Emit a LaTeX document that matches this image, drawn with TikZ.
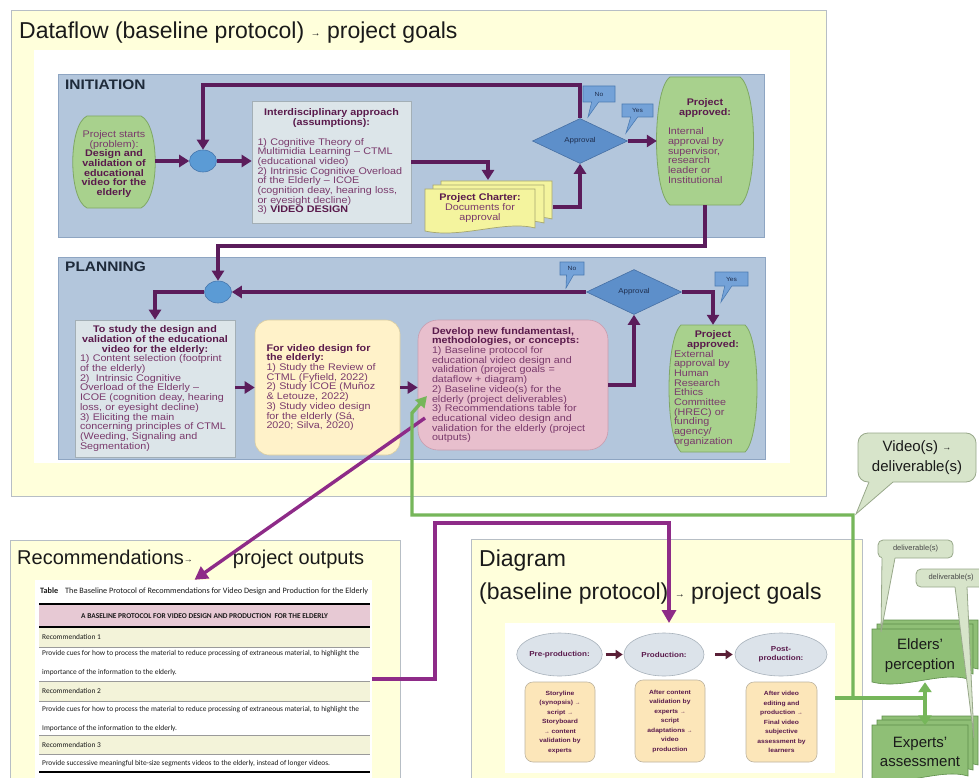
\documentclass[tikz,border=0pt]{standalone}
\usepackage{fontspec}
\setmainfont{Liberation Sans}
\newfontfamily\bxfont[FakeStretch=1.12]{Liberation Sans}
\newfontfamily\tblfont{Carlito}
\usetikzlibrary{arrows.meta,shapes.geometric,shapes.callouts}

\definecolor{pageyellow}{HTML}{FFFFDB}
\definecolor{frame}{HTML}{B7BEC5}
\definecolor{panelblue}{HTML}{B3C6DC}
\definecolor{panelline}{HTML}{8EA5C2}
\definecolor{flowpurple}{HTML}{5B1C5B}
\definecolor{magpurple}{HTML}{8E2B88}
\definecolor{dotblue}{HTML}{5B9BD5}
\definecolor{dotline}{HTML}{4677AE}
\definecolor{diamblue}{HTML}{5D8FCA}
\definecolor{diamline}{HTML}{466FA3}
\definecolor{callblue}{HTML}{74A2D8}
\definecolor{callline}{HTML}{4B7BB3}
\definecolor{navytext}{HTML}{1F2F4F}
\definecolor{okgreen}{HTML}{A8D18D}
\definecolor{okgreenline}{HTML}{7FA765}
\definecolor{greyblue}{HTML}{DCE5E9}
\definecolor{boxline}{HTML}{A3AFB6}
\definecolor{softyellow}{HTML}{FFF2C9}
\definecolor{yellowline}{HTML}{D9CCA0}
\definecolor{softpink}{HTML}{E8BFCD}
\definecolor{pinkline}{HTML}{C79DAF}
\definecolor{charterfill}{HTML}{F4F49E}
\definecolor{charterline}{HTML}{A6A66E}
\definecolor{tnorm}{HTML}{7A3A6C}
\definecolor{tbold}{HTML}{5A1A4C}
\definecolor{linkgreen}{HTML}{76B65A}
\definecolor{docgreen}{HTML}{8FBF76}
\definecolor{docline}{HTML}{5E8E4A}
\definecolor{sage}{HTML}{D7E4CA}
\definecolor{sageline}{HTML}{98A88A}
\definecolor{maroon}{HTML}{5A1F37}
\definecolor{peach}{HTML}{FCE6B9}
\definecolor{peachline}{HTML}{BDB4A0}
\definecolor{ellgrey}{HTML}{DCE3EA}
\definecolor{ellline}{HTML}{A8B2BB}
\definecolor{tblpink}{HTML}{E7C9D4}
\definecolor{tblrow}{HTML}{F3F3D9}
\definecolor{tblline}{HTML}{9A9A9A}
\definecolor{inkdark}{HTML}{1A1A1A}
\definecolor{labelnavy}{HTML}{1E2A3A}

% bold heading inside the flow boxes
\newcommand{\bhead}[1]{{\bfseries\color{tbold}#1}}
% small arrow glyph used inside running text
\newcommand{\sarr}[1][9]{{\fontsize{#1}{#1}\selectfont →}}
% small raised arrow for the large headings
\newcommand{\harr}{\raisebox{1.6pt}{\sarr[10]}}
% stacked "document" sheet with a wavy lower edge
\newcommand{\sheet}[5]{\draw[#5] (#1,#2) -- (#3,#2) -- (#3,{#4-3})
  .. controls ({#1+0.72*(#3-#1)},{#4-11}) and ({#1+0.33*(#3-#1)},{#4+8}) .. (#1,#4) -- cycle;}
% rounded speech bubble with a pointed tail
\newcommand{\speech}[9]{%
  \draw[fill=sage, draw=sageline, line width=0.8pt, rounded corners=#9] (#1,#2) rectangle (#3,#4);
  \fill[sage] (#5,{#4-3}) -- (#6,{#4-3}) -- (#6,#4) -- (#7,#8) -- (#5,#4) -- cycle;
  \draw[sageline, line width=0.8pt] (#5,#4) -- (#7,#8) -- (#6,#4);}

\begin{document}
\begin{tikzpicture}[x=1pt,y=-1pt,
  bx/.style={font=\bxfont\fontsize{9.6}{9.7}\selectfont, text=tnorm},
  flow/.style={draw=flowpurple, line width=3.6pt, -{Triangle[length=10pt,width=12pt]}},
  magflow/.style={draw=magpurple, line width=3.4pt, -{Triangle[length=13pt,width=14pt]}},
  greenflow/.style={draw=linkgreen, line width=3.4pt},
  darkflow/.style={draw=maroon, line width=3.2pt, -{Triangle[length=7pt,width=9pt]}},
  dotnode/.style={ellipse, fill=dotblue, draw=dotline, line width=0.6pt, minimum width=27pt, minimum height=22pt, inner sep=0pt},
  gatebox/.style={diamond, fill=diamblue, draw=diamline, line width=0.6pt, minimum width=95pt, minimum height=45pt, inner sep=0pt, font=\bxfont\fontsize{7.1}{8}\selectfont, text=navytext},
  flagbox/.style={rectangle callout, fill=callblue, draw=callline, line width=0.6pt, callout pointer width=7pt, inner sep=0pt, font=\bxfont\fontsize{6}{7}\selectfont, text=navytext},
  ellnode/.style={ellipse, fill=ellgrey, draw=ellline, line width=0.6pt, minimum width=81pt, minimum height=43pt, inner sep=0pt, align=center, font=\bxfont\bfseries\fontsize{7.2}{9}\selectfont, text=tbold},
  pbox/.style={rectangle, rounded corners=8pt, fill=peach, draw=peachline, line width=0.6pt, minimum width=70pt, minimum height=80pt, inner sep=0pt, align=center, font=\bxfont\bfseries\fontsize{6}{9.5}\selectfont, text=tbold},
  tbltxt/.style={anchor=west, inner sep=0pt, font=\tblfont\fontsize{7.4}{9}\selectfont, text=inkdark},
  titletxt/.style={anchor=base west, inner sep=0pt, text=inkdark},
  docname/.style={align=center, inner sep=0pt, font=\fontsize{15}{19.5}\selectfont, text=inkdark},
  smalltag/.style={inner sep=0pt, font=\fontsize{7.5}{8}\selectfont, text=inkdark!80}
]
\useasboundingbox (0,0) rectangle (979,778);
\clip (0,0) rectangle (979,778);
\fill[white] (0,0) rectangle (979,778);

% ---------------- dataflow frame ----------------
\draw[fill=pageyellow, draw=frame, line width=0.9pt] (11,10) rectangle (826,496);
\fill[white] (34,50) rectangle (790,463);
\node[titletxt, font=\fontsize{23}{23}\selectfont] (dftitle) at (19,38.3)
  {Dataflow (baseline protocol) \harr\ project goals};

\draw[fill=panelblue, draw=panelline, line width=0.8pt] (58,74) rectangle (764,237);
\draw[fill=panelblue, draw=panelline, line width=0.8pt] (58,257) rectangle (765,459);
\node[anchor=west, inner sep=0pt, font=\bxfont\bfseries\fontsize{13.8}{14}\selectfont, text=labelnavy] (initlbl) at (65,84.5) {INITIATION};
\node[anchor=west, inner sep=0pt, font=\bxfont\bfseries\fontsize{13.8}{14}\selectfont, text=labelnavy] (planlbl) at (65,266.5) {PLANNING};

% green terminator shapes
\draw[fill=okgreen, draw=okgreenline, line width=0.8pt] (87,116) -- (141,116)
  .. controls (160,125) and (160,199) .. (141,208) -- (87,208)
  .. controls (68,199) and (68,125) .. cycle;
\draw[fill=okgreen, draw=okgreenline, line width=0.8pt] (670,77) -- (740,77)
  .. controls (758,90) and (758,192) .. (740,205) -- (670,205)
  .. controls (652,192) and (652,90) .. cycle;
\draw[fill=okgreen, draw=okgreenline, line width=0.8pt] (681,325) -- (745,325)
  .. controls (761,340) and (761,437) .. (745,452) -- (681,452)
  .. controls (665,437) and (665,340) .. cycle;

% project charter document stack
\sheet{441}{181}{552}{222}{fill=charterfill, draw=charterline, line width=0.7pt}
\sheet{433}{185}{544}{226}{fill=charterfill, draw=charterline, line width=0.7pt}
\sheet{425}{189}{535}{231}{fill=charterfill, draw=charterline, line width=0.7pt}

% ---------------- initiation nodes ----------------
\node[bx, align=center, minimum width=82pt, minimum height=92pt, inner sep=0pt] (start) at (114,164)
  {Project starts\\(problem):\\\bhead{Design and}\\\bhead{validation of}\\\bhead{educational}\\\bhead{video for the}\\\bhead{elderly}};
\node[dotnode] (j1) at (203,161) {};
\node[bx, draw=boxline, fill=greyblue, line width=0.6pt, text width=148pt, inner xsep=5.5pt, minimum height=122pt, align=left] (inter) at (331.5,162)
  {{\centering\bhead{Interdisciplinary approach}\\\bhead{(assumptions):}\par}\vspace{9.7pt}%
   1) Cognitive Theory of\\Multimidia Learning – CTML\\(educational video)\\2) Intrinsic Cognitive Overload\\of the Elderly – ICOE\\(cognition deay, hearing loss,\\or eyesight decline)\\3) \bhead{VIDEO DESIGN}};
\node[bx, align=center, minimum width=110pt, minimum height=42pt, inner sep=0pt] (charter) at (480,208)
  {\bhead{Project Charter:}\\Documents for\\approval};
\node[gatebox] (ap1) at (580,141) {Approval};
\node[flagbox, minimum width=32pt, minimum height=16pt, callout absolute pointer={(588,117)}] (no1) at (599,94) {No};
\node[flagbox, minimum width=31pt, minimum height=13pt, callout absolute pointer={(626,133)}] (yes1) at (637.5,110.5) {Yes};
\node[bx, text width=74pt, align=left, minimum width=96pt, minimum height=128pt, inner sep=0pt] (okint) at (705,141)
  {{\centering\bhead{Project}\\\bhead{approved:}\par}\vspace{9.5pt}%
   Internal\\approval by\\supervisor,\\research\\leader or\\Institutional};

\coordinate (chartop) at (488,180);
\coordinate (charout) at (553,207);
\coordinate (loopA) at (203,85);
\coordinate (loopB) at (218,246);

\draw[flow] (start.east |- j1.west) -- (j1.west);
\draw[flow] (j1.east) -- (j1.east -| inter.west);
\draw[flow] (inter.east) -| (chartop);
\draw[flow] (charout) -| (ap1.south);
\draw[flow] (ap1.north) |- (loopA) -- (j1.north);
\draw[flow] (ap1.east) -- (ap1.east -| okint.west);

% ---------------- planning nodes ----------------
\node[dotnode] (j2) at (218,292) {};
\draw[flow] (okint.south) |- (loopB) -- (j2.north);
\node[bx, draw=boxline, fill=greyblue, line width=0.6pt, text width=150pt, inner xsep=5pt, minimum height=137pt, align=left] (study) at (155,388.5)
  {{\centering\bhead{To study the design and}\\\bhead{validation of the educational}\\\bhead{video for the elderly:}\par}%
   1) Content selection (footprint\\of the elderly)\\2)\ \ Intrinsic Cognitive\\Overload of the Elderly –\\ICOE (cognition deay, hearing\\loss, or eyesight decline)\\3) Eliciting the main\\concerning principles of CTML\\(Weeding, Signaling and\\Segmentation)};
\node[bx, draw=yellowline, fill=softyellow, line width=0.6pt, rounded corners=14pt, text width=122pt, inner xsep=11.5pt, minimum height=135pt, align=left] (vdesign) at (327.5,387.5)
  {\bhead{For video design for}\\\bhead{the elderly:}\\1) Study the Review of\\CTML (Fyfield, 2022)\\2) Study ICOE (Muñoz\\\& Letouze, 2022)\\3) Study video design\\for the elderly (Sá,\\2020; Silva, 2020)};
\node[bx, draw=pinkline, fill=softpink, line width=0.6pt, rounded corners=20pt, text width=162pt, inner xsep=14pt, minimum height=130pt, align=left] (develop) at (513,385)
  {\bhead{Develop new fundamentasl,}\\\bhead{methodologies, or concepts:}\\1) Baseline protocol for\\educational video design and\\validation (project goals =\\dataflow + diagram)\\2) Baseline video(s) for the\\elderly (project deliverables)\\3) Recommendations table for\\educational video design and\\validation for the elderly (project\\outputs)};
\node[gatebox] (pg) at (634,292) {Approval};
\node[flagbox, minimum width=24pt, minimum height=13pt, callout absolute pointer={(566,288)}] (no2) at (572,268.5) {No};
\node[flagbox, minimum width=33pt, minimum height=14pt, callout absolute pointer={(721,302)}] (yes2) at (731.5,279) {Yes};
\node[bx, text width=78pt, align=left, minimum width=88pt, minimum height=127pt, inner sep=0pt] (okext) at (713,388.5)
  {{\centering\bhead{Project}\\\bhead{approved:}\par}%
   External\\approval by\\Human\\Research\\Ethics\\Committee\\(HREC) or\\funding\\agency/\\organization};

\draw[flow] (pg.west) -- (j2.east);
\draw[flow] (j2.west) -| (study.north);
\draw[flow] (study.east |- vdesign.west) -- (vdesign.west);
\draw[flow] (vdesign.east) -- (vdesign.east -| develop.west);
\draw[flow] (develop.east) -| (pg.south);
\draw[flow] (pg.east) -| (okext.north);

% ---------------- recommendations frame ----------------
\draw[fill=pageyellow, draw=frame, line width=0.9pt] (10,540) rectangle (400,795);
\node[titletxt, font=\fontsize{20}{20}\selectfont] (rtitle) at (17,564.3)
  {Recommendations\raisebox{1.4pt}{\sarr[9]}\hspace{40pt}project outputs};
\node[fill=white, minimum width=337pt, minimum height=198pt, inner sep=0pt] (tbl) at (203.5,679) {};
\fill[tblpink] (39,604) rectangle (370,627);
\fill[tblrow] (39,627) rectangle (370,647);
\fill[tblrow] (39,681) rectangle (370,701);
\fill[tblrow] (39,735) rectangle (370,754);
\foreach \yy in {647,681,701,735,754} \draw[tblline, line width=0.6pt] (39,\yy) -- (370,\yy);
\foreach \yy in {604,627,772} \draw[black, line width=1.5pt] (39,\yy) -- (370,\yy);
\node[tbltxt, font=\tblfont\fontsize{8.2}{9}\selectfont] (tcap) at (40,591)
  {\textbf{Table}\hspace{7pt}The Baseline Protocol of Recommendations for Video Design and Production for the Elderly};
\node[inner sep=0pt, font=\tblfont\bfseries\fontsize{7.4}{8}\selectfont, text=inkdark] (thead) at (204.5,616)
  {A BASELINE PROTOCOL FOR VIDEO DESIGN AND PRODUCTION\ \ FOR THE ELDERLY};
\node[tbltxt] (rec1) at (42,637) {Recommendation 1};
\node[tbltxt] (rec1a) at (42,653.5) {Provide cues for how to process the material to reduce processing of extraneous material, to highlight the};
\node[tbltxt] (rec1b) at (42,672.7) {importance of the information to the elderly.};
\node[tbltxt] (rec2) at (42,691) {Recommendation 2};
\node[tbltxt] (rec2a) at (42,709.3) {Provide cues for how to process the material to reduce processing of extraneous material, to highlight the};
\node[tbltxt] (rec2b) at (42,728.3) {Importance of the information to the elderly.};
\node[tbltxt] (rec3) at (42,745) {Recommendation 3};
\node[tbltxt] (rec3a) at (42,763.3) {Provide successive meaningful bite-size segments videos to the elderly, instead of longer videos.};

% ---------------- diagram frame ----------------
\draw[fill=pageyellow, draw=frame, line width=0.9pt] (471,539) rectangle (862,795);
\node[titletxt, font=\fontsize{23}{23}\selectfont] (dgtitle) at (479,566) {Diagram};
\node[titletxt, font=\fontsize{23}{23}\selectfont] (dgtitleb) at (479,599)
  {(baseline protocol) \harr\ project goals};
\node[fill=white, minimum width=330pt, minimum height=150pt, inner sep=0pt] (dpanel) at (670,698) {};
\node[ellnode] (pre) at (559.5,654.5) {Pre-production:};
\node[ellnode, minimum width=80pt] (prod) at (664,654.5) {Production:};
\node[ellnode, minimum width=92pt] (post) at (781,654.5) {Post-\\production:};
\draw[darkflow, shorten <=3pt, shorten >=1pt] (pre) -- (prod);
\draw[darkflow, shorten <=11pt, shorten >=2pt] (prod) -- (post);
\node[pbox] (b1) at (560,722)
  {Storyline\\(synopsis) \sarr[5]\\script \sarr[5]\\Storyboard\\\sarr[5]\ content\\validation by\\experts};
\node[pbox, minimum height=82pt] (b2) at (670,721)
  {After content\\validation by\\experts \sarr[5]\\script\\adaptations \sarr[5]\\video\\production};
\node[pbox, minimum width=71pt] (b3) at (781.5,722)
  {After video\\editing and\\production \sarr[5]\\Final video\\subjective\\assessment by\\learners};

% ---------------- deliverables column ----------------
\sheet{882}{620}{978}{672}{fill=docgreen, draw=docline, line width=0.6pt}
\sheet{877}{624}{973}{677}{fill=docgreen, draw=docline, line width=0.6pt}
\sheet{872}{629}{968}{682}{fill=docgreen, draw=docline, line width=0.6pt}
\sheet{882}{716}{978}{768}{fill=docgreen, draw=docline, line width=0.6pt}
\sheet{877}{720}{973}{773}{fill=docgreen, draw=docline, line width=0.6pt}
\sheet{872}{725}{968}{779}{fill=docgreen, draw=docline, line width=0.6pt}
\node[docname, minimum width=96pt, minimum height=53pt] (elders) at (920,655.5) {Elders'\\perception};
\node[docname, minimum width=96pt, minimum height=53pt] (experts) at (920,752) {Experts'\\assessment};

\speech{858}{433}{976}{482}{869}{893}{856}{514}{10pt}
\speech{878}{540}{953}{558}{882}{895}{881}{632}{5pt}
\speech{916}{569}{990}{587}{955}{967}{974}{738}{5pt}
\node[docname] (vcall) at (917,457.5) {Video(s) \raisebox{1.2pt}{\sarr[9]}\\deliverable(s)};
\node[smalltag] (del1) at (915.5,549) {deliverable(s)};
\node[smalltag] (del2) at (951,578) {deliverable(s)};

% ---------------- links between the panels ----------------
\coordinate (recsrc) at (425,418);
\coordinate (magturn) at (435,523);
\coordinate (dtop) at (669,623);
\coordinate (gB) at (925,698);
\coordinate (gC) at (853,698);
\coordinate (gD) at (412,515);
\coordinate (gE) at (412,413);
\coordinate (gF) at (427,396);

\draw[magflow] (recsrc) -- ([xshift=-9pt]tbl.north);
\draw[magflow] (tbl.east) -| (magturn) -| (dtop);
\draw[greenflow] (dpanel.east) -- (gB);
\draw[greenflow, -{Triangle[length=11pt,width=12pt]}] (gC) |- (gD) -- (gE) -- (gF);
\draw[greenflow, {Triangle[length=10pt,width=13pt]}-{Triangle[length=10pt,width=13pt]}]
  ([xshift=5pt]elders.south) -- ([xshift=5pt]experts.north);
\end{tikzpicture}
\end{document}
